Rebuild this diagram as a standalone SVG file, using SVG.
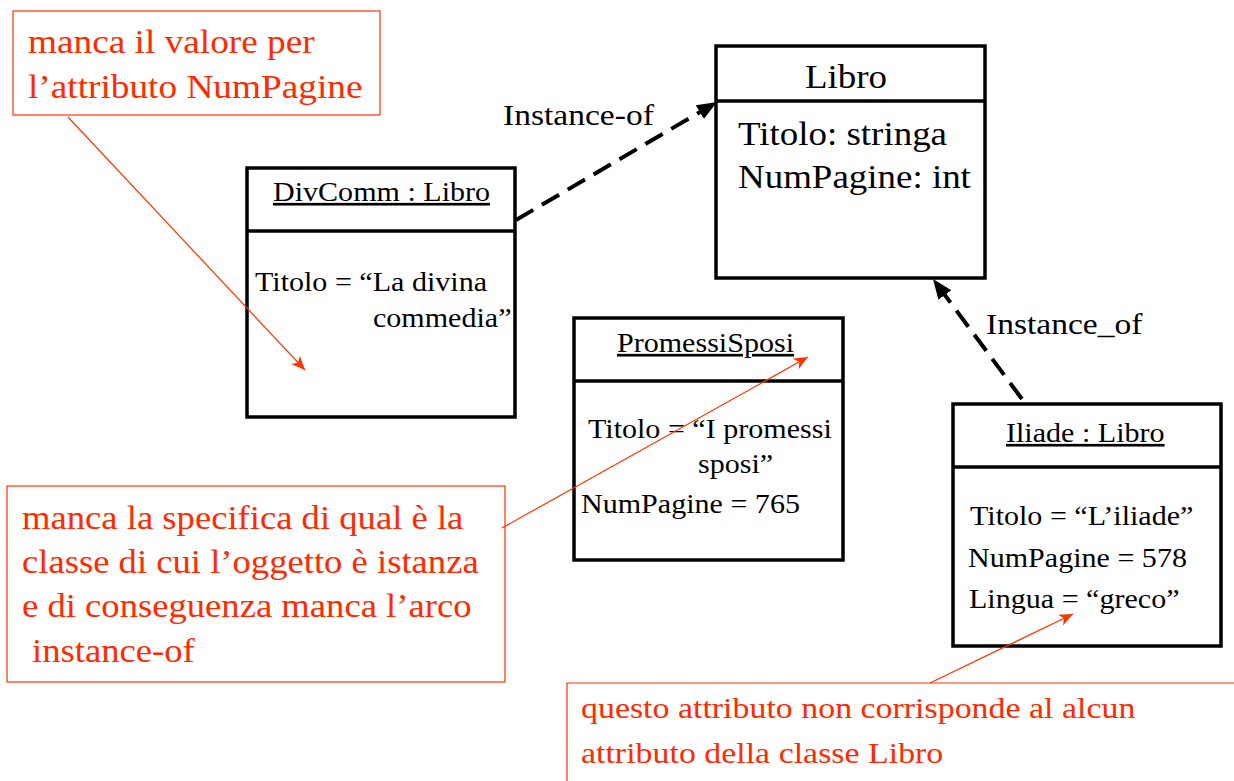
<svg xmlns="http://www.w3.org/2000/svg" width="1234" height="781" viewBox="0 0 1234 781">
<style>
.box{fill:#fff;stroke:#000;stroke-width:3.5;}
.div{stroke:#000;stroke-width:3.5;}
.note{fill:none;stroke:#ff3300;stroke-width:1.2;}
.dash{fill:none;stroke:#000;stroke-width:4;stroke-dasharray:20 10;}
.red{fill:none;stroke:#ff3300;stroke-width:1.2;}
</style>
<defs>
<marker id="blk" markerUnits="userSpaceOnUse" markerWidth="22" markerHeight="18" refX="5" refY="8" orient="auto">
<path d="M0,0 L20,8 L0,16 z" fill="#000"/>
</marker>
<marker id="rd" markerUnits="userSpaceOnUse" markerWidth="16" markerHeight="14" refX="14" refY="6" orient="auto">
<path d="M0,0 L14,6 L0,12 L4,6 z" fill="#ff3300"/>
</marker>
</defs>

<g id="note-numpagine">
<rect class="note" x="13" y="11" width="367" height="104"/>
<text font-family="Liberation Serif" font-size="33" fill="#ff2a00" transform="translate(28,53) scale(1.13,1)">manca il valore per</text>
<text font-family="Liberation Serif" font-size="33" fill="#ff2a00" transform="translate(28,98) scale(1.13,1)">l’attributo NumPagine</text>
</g>

<g id="divcomm">
<rect class="box" x="247" y="168" width="268" height="249"/>
<line class="div" x1="247" y1="231" x2="515" y2="231"/>
<text font-family="Liberation Serif" font-size="26.6" fill="#000" transform="translate(273,201) scale(1.13,1)" text-decoration="underline">DivComm : Libro</text>
<text font-family="Liberation Serif" font-size="26.6" fill="#000" transform="translate(255,291) scale(1.13,1)">Titolo = “La divina</text>
<text font-family="Liberation Serif" font-size="26.6" fill="#000" transform="translate(373,327) scale(1.13,1)">commedia”</text>
</g>

<g id="libro">
<rect class="box" x="716" y="46" width="269" height="232"/>
<line class="div" x1="716" y1="101" x2="985" y2="101"/>
<text font-family="Liberation Serif" font-size="32.7" fill="#000" transform="translate(805,88) scale(1.13,1)">Libro</text>
<text font-family="Liberation Serif" font-size="32.7" fill="#000" transform="translate(738,145) scale(1.13,1)">Titolo: stringa</text>
<text font-family="Liberation Serif" font-size="32.7" fill="#000" transform="translate(738,188) scale(1.13,1)">NumPagine: int</text>
</g>

<g id="promessisposi">
<rect class="box" x="574" y="318" width="269" height="242"/>
<line class="div" x1="574" y1="381" x2="843" y2="381"/>
<text font-family="Liberation Serif" font-size="26.6" fill="#000" transform="translate(617,352) scale(1.13,1)" text-decoration="underline">PromessiSposi</text>
<text font-family="Liberation Serif" font-size="26.6" fill="#000" transform="translate(588,438) scale(1.13,1)">Titolo = “I promessi</text>
<text font-family="Liberation Serif" font-size="26.6" fill="#000" transform="translate(698,473) scale(1.13,1)">sposi”</text>
<text font-family="Liberation Serif" font-size="26.6" fill="#000" transform="translate(581,513) scale(1.13,1)">NumPagine = 765</text>
</g>

<g id="iliade">
<rect class="box" x="953" y="404" width="268" height="242"/>
<line class="div" x1="953" y1="467" x2="1221" y2="467"/>
<text font-family="Liberation Serif" font-size="26.6" fill="#000" transform="translate(1006,442) scale(1.13,1)" text-decoration="underline">Iliade : Libro</text>
<text font-family="Liberation Serif" font-size="26.6" fill="#000" transform="translate(970,525) scale(1.13,1)">Titolo = “L’iliade”</text>
<text font-family="Liberation Serif" font-size="26.6" fill="#000" transform="translate(968,567) scale(1.13,1)">NumPagine = 578</text>
<text font-family="Liberation Serif" font-size="26.6" fill="#000" transform="translate(969,608) scale(1.13,1)">Lingua = “greco”</text>
</g>

<g id="note-instanceof">
<rect class="note" x="7" y="486" width="498" height="196"/>
<text font-family="Liberation Serif" font-size="33" fill="#ff2a00" transform="translate(22,529) scale(1.11,1)">manca la specifica di qual è la</text>
<text font-family="Liberation Serif" font-size="33" fill="#ff2a00" transform="translate(22,573) scale(1.11,1)">classe di cui l’oggetto è istanza</text>
<text font-family="Liberation Serif" font-size="33" fill="#ff2a00" transform="translate(22,617) scale(1.11,1)">e di conseguenza manca l’arco</text>
<text font-family="Liberation Serif" font-size="33" fill="#ff2a00" transform="translate(32,662) scale(1.11,1)">instance-of</text>
</g>

<g id="note-lingua">
<path class="note" d="M1240,683 L567,683 L567,790"/>
<text font-family="Liberation Serif" font-size="30" fill="#ff2a00" transform="translate(581,718) scale(1.13,1)">questo attributo non corrisponde al alcun</text>
<text font-family="Liberation Serif" font-size="30" fill="#ff2a00" transform="translate(581,763) scale(1.13,1)">attributo della classe Libro</text>
</g>

<g id="connectors">
<line class="dash" x1="516" y1="220" x2="704.1" y2="109.6" marker-end="url(#blk)"/>
<text font-family="Liberation Serif" font-size="29.7" fill="#000" transform="translate(503,125) scale(1.13,1)">Instance-of</text>
<line class="dash" x1="1022" y1="399" x2="941.9" y2="291" marker-end="url(#blk)"/>
<text font-family="Liberation Serif" font-size="29.7" fill="#000" transform="translate(986,334) scale(1.13,1)">Instance_of</text>
<line class="red" x1="68" y1="117" x2="305" y2="370" marker-end="url(#rd)"/>
<line class="red" x1="502" y1="528" x2="808" y2="357" marker-end="url(#rd)"/>
<line class="red" x1="930" y1="683" x2="1073" y2="614" marker-end="url(#rd)"/>
</g>
</svg>
